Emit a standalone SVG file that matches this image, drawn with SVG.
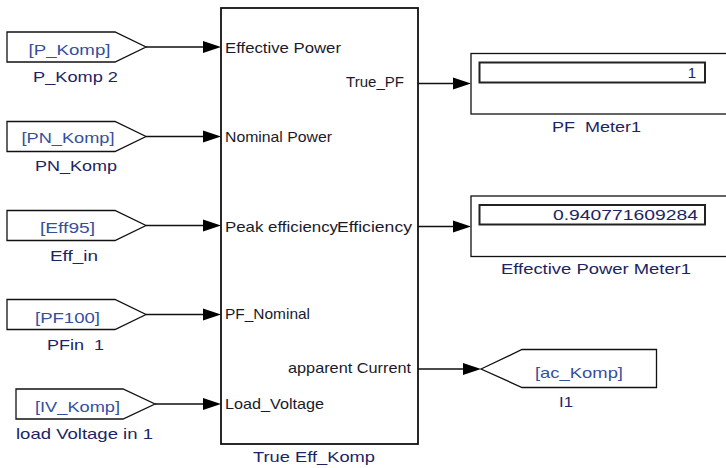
<svg xmlns="http://www.w3.org/2000/svg" width="726" height="468" viewBox="0 0 726 468">
<style>
text{font-family:"Liberation Sans",Arial,sans-serif;font-size:15px}
.tag{fill:#34509c}
.lbl{fill:#1c2464}
.port{fill:#1a1a2a}
.blk{fill:#fff;stroke:#111;stroke-width:1.3}
.main{fill:#fff;stroke:#111;stroke-width:1.8}
.inner{fill:#fff;stroke:#222;stroke-width:2}
.wire{fill:none;stroke:#111;stroke-width:1.3}
.ah{fill:#000}
</style>
<rect width="726" height="468" fill="#fff"/>
<g id="connectors">
<path class="wire" d="M146 47H210M146 136.5H210M146 225.5H210M146 314.5H210M155 404H210M418 83.5H460M418 226.5H460M418 369H468"/>
<path class="ah" d="M203 41L221 47L203 53ZM203 130.5L221 136.5L203 142.5ZM203 219.5L221 225.5L203 231.5ZM203 308.5L221 314.5L203 320.5ZM203 398L221 404L203 410ZM453 77.5L471 83.5L453 89.5ZM453 220.5L471 226.5L453 232.5ZM463 363L481 369L463 375Z"/>
</g>
<g id="from_P_Komp">
<path class="blk" d="M7 32H115L146 47L115 62H7Z"/>
<text class="tag" x="28.5" y="55" textLength="82" lengthAdjust="spacingAndGlyphs">[P_Komp]</text>
<text class="lbl" x="33" y="82" textLength="85" lengthAdjust="spacingAndGlyphs">P_Komp 2</text>
</g>
<g id="from_PN_Komp">
<path class="blk" d="M7 121.5H115L146 136.5L115 151.5H7Z"/>
<text class="tag" x="21.5" y="143" textLength="93" lengthAdjust="spacingAndGlyphs">[PN_Komp]</text>
<text class="lbl" x="35" y="171" textLength="82" lengthAdjust="spacingAndGlyphs">PN_Komp</text>
</g>
<g id="from_Eff95">
<path class="blk" d="M7 210.5H115L146 225.5L115 240.5H7Z"/>
<text class="tag" x="40" y="233" textLength="55" lengthAdjust="spacingAndGlyphs">[Eff95]</text>
<text class="lbl" x="50" y="261" textLength="48" lengthAdjust="spacingAndGlyphs">Eff_in</text>
</g>
<g id="from_PF100">
<path class="blk" d="M7 299.5H115L146 314.5L115 329.5H7Z"/>
<text class="tag" x="35" y="322.5" textLength="65" lengthAdjust="spacingAndGlyphs">[PF100]</text>
<text class="lbl" x="47" y="350" textLength="57" lengthAdjust="spacingAndGlyphs" xml:space="preserve">PFin  1</text>
</g>
<g id="from_IV_Komp">
<path class="blk" d="M16 389H123L155 404L123 419H16Z"/>
<text class="tag" x="35" y="412" textLength="85" lengthAdjust="spacingAndGlyphs">[IV_Komp]</text>
<text class="lbl" x="16" y="439" textLength="137" lengthAdjust="spacingAndGlyphs">load Voltage in 1</text>
</g>
<g id="true_eff_komp">
<rect class="main" x="221" y="8" width="197" height="436"/>
<text class="port" x="225" y="53" textLength="116" lengthAdjust="spacingAndGlyphs">Effective Power</text>
<text class="port" x="346" y="87" textLength="58" lengthAdjust="spacingAndGlyphs">True_PF</text>
<text class="port" x="225" y="142" textLength="107" lengthAdjust="spacingAndGlyphs">Nominal Power</text>
<text class="port" x="225" y="232" textLength="113" lengthAdjust="spacingAndGlyphs">Peak efficiency</text>
<text class="port" x="337" y="232" textLength="75" lengthAdjust="spacingAndGlyphs">Efficiency</text>
<text class="port" x="225" y="319" textLength="85" lengthAdjust="spacingAndGlyphs">PF_Nominal</text>
<text class="port" x="288" y="373" textLength="123" lengthAdjust="spacingAndGlyphs">apparent Current</text>
<text class="port" x="225" y="409" textLength="99" lengthAdjust="spacingAndGlyphs">Load_Voltage</text>
<text class="lbl" x="253" y="462" textLength="122" lengthAdjust="spacingAndGlyphs">True Eff_Komp</text>
</g>
<g id="pf_meter1">
<rect class="blk" x="471" y="53.5" width="270" height="60.5"/>
<rect class="inner" x="479.5" y="62.5" width="225.5" height="20"/>
<text class="lbl" x="696" y="77.5" text-anchor="end">1</text>
<text class="lbl" x="552" y="132" textLength="89" lengthAdjust="spacingAndGlyphs" xml:space="preserve">PF  Meter1</text>
</g>
<g id="effective_power_meter1">
<rect class="blk" x="471" y="196" width="270" height="60.5"/>
<rect class="inner" x="479.5" y="205" width="225.5" height="19.5"/>
<text class="lbl" x="553" y="219.5" textLength="145" lengthAdjust="spacingAndGlyphs">0.940771609284</text>
<text class="lbl" x="501" y="274" textLength="190" lengthAdjust="spacingAndGlyphs">Effective Power Meter1</text>
</g>
<g id="goto_ac_Komp">
<path class="blk" d="M481 369L522 349.5H656.5V387.5H522Z"/>
<text class="tag" x="535" y="378" textLength="88" lengthAdjust="spacingAndGlyphs">[ac_Komp]</text>
<text class="lbl" x="559" y="407" textLength="14" lengthAdjust="spacingAndGlyphs">I1</text>
</g>
</svg>
